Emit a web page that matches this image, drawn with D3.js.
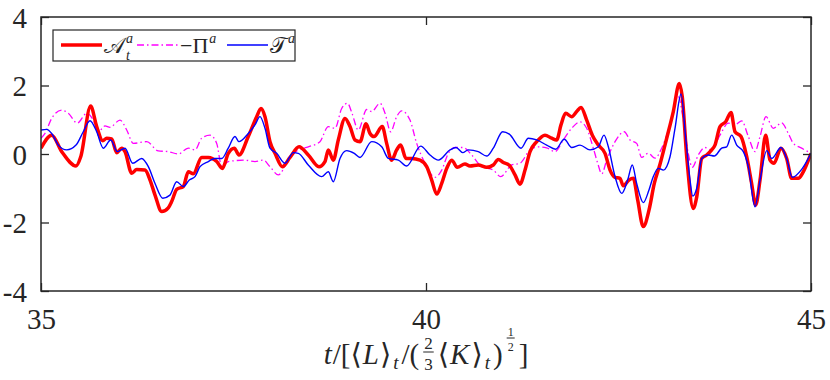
<!DOCTYPE html>
<html>
<head>
<meta charset="utf-8">
<title>A_t, Pi, T time series</title>
<style>
  body { margin: 0; background: #fff; }
</style>
</head>
<body>
<svg width="830" height="380"></svg>
<script src="https://cdn.jsdelivr.net/npm/d3@7/dist/d3.min.js"></script>
<script>
// time axis ticks and y ticks
const xTicks = [35, 40, 45];
const yTicks = [-4, -2, 0, 2, 4];

// A_t^a (red, thick)
const tA = [35.000,35.139,35.269,35.455,35.516,35.645,35.723,35.801,35.853,35.918,35.983,36.048,36.091,36.178,36.243,36.351,36.416,36.481,36.568,36.653,36.697,36.762,36.848,36.913,36.978,37.087,37.173,37.282,37.355,37.432,37.510,37.571,37.692,37.801,37.857,37.909,37.974,38.039,38.134,38.234,38.351,38.471,38.610,38.688,38.731,38.796,38.861,38.948,39.013,39.078,39.143,39.221,39.273,39.325,39.432,39.489,39.554,39.619,39.671,39.740,39.814,39.922,40.009,40.074,40.139,40.204,40.269,40.334,40.406,40.506,40.571,40.679,40.788,40.874,40.939,41.004,41.082,41.156,41.221,41.286,41.351,41.438,41.545,41.632,41.697,41.753,41.814,41.892,41.957,42.013,42.087,42.160,42.238,42.325,42.390,42.455,42.519,42.562,42.636,42.692,42.749,42.822,42.896,42.965,43.039,43.126,43.212,43.290,43.328,43.386,43.471,43.516,43.581,43.645,43.710,43.753,43.818,43.892,43.961,44.013,44.091,44.165,44.229,44.281,44.338,44.411,44.468,44.519,44.610,44.684,44.749,44.835,44.900,45.000];
const vA = [0.17,0.55,0.07,-0.35,-0.08,1.40,0.80,0.39,0.46,0.44,0.04,0.17,0.07,-0.56,-0.45,-0.47,-0.76,-1.20,-1.68,-1.57,-1.39,-1.03,-0.95,-0.52,-0.58,-0.10,-0.10,-0.22,-0.42,0.02,0.17,-0.03,0.51,1.09,1.33,1.09,0.36,0.02,-0.37,-0.10,0.21,-0.03,-0.37,-0.22,0.12,-0.18,0.41,1.04,0.80,0.41,0.36,0.88,0.60,0.51,0.80,0.31,-0.18,0.12,0.26,-0.13,-0.13,-0.18,-0.37,-0.76,-1.17,-0.86,-0.42,-0.18,-0.39,-0.29,-0.35,-0.32,-0.39,-0.32,-0.16,-0.25,-0.33,-0.61,-0.88,-0.47,0.07,0.36,0.55,0.46,0.41,0.85,1.19,1.09,1.24,1.36,0.99,0.55,0.26,0.02,-0.47,-0.68,-0.71,-0.93,-0.76,-0.71,-1.34,-2.12,-1.64,-0.86,-0.30,0.46,1.24,2.06,1.67,-0.08,-1.59,-1.25,-0.13,-0.03,0.12,0.26,0.80,0.94,1.21,0.65,0.51,-0.08,-0.86,-1.49,-0.76,0.55,-0.18,-0.27,0.17,-0.13,-0.71,-0.71,-0.52,0.02];

// -Pi^a (magenta, dash-dot)
const tP = [35.000,35.052,35.139,35.269,35.355,35.471,35.594,35.679,35.744,35.831,35.896,36.026,36.113,36.199,36.373,36.523,36.653,36.783,36.913,37.000,37.087,37.195,37.282,37.347,37.432,37.649,37.779,37.887,37.974,38.082,38.212,38.342,38.471,38.623,38.731,38.818,38.905,38.981,39.039,39.121,39.230,39.295,39.403,39.468,39.541,39.619,39.684,39.792,39.879,39.987,40.117,40.204,40.290,40.377,40.484,40.594,40.723,40.874,40.970,41.113,41.221,41.351,41.459,41.567,41.675,41.783,41.892,42.000,42.087,42.173,42.230,42.282,42.347,42.455,42.575,42.649,42.736,42.801,42.887,42.974,43.061,43.169,43.277,43.342,43.406,43.458,43.536,43.623,43.710,43.818,43.926,44.013,44.100,44.186,44.273,44.338,44.416,44.510,44.619,44.705,44.771,44.879,45.000];
const vP = [0.46,0.60,1.04,1.28,1.19,0.90,1.19,0.99,0.65,0.82,0.78,0.99,0.70,0.31,0.36,0.09,0.07,0.00,0.17,0.12,0.46,0.55,0.31,-0.37,-0.22,-0.18,-0.22,-0.18,-0.37,-0.61,-0.18,0.12,0.21,0.36,0.80,0.75,1.33,1.48,1.19,0.70,1.30,1.24,1.48,1.19,0.65,1.09,1.26,0.99,0.31,-0.27,-0.68,-0.47,0.02,0.19,0.19,-0.03,-0.37,-0.47,-0.66,-0.32,-0.27,0.12,0.21,0.18,0.07,0.41,0.75,0.94,0.75,0.17,-0.27,-0.58,-0.18,0.36,0.65,0.41,0.31,-0.10,0.02,-0.12,0.17,0.85,1.67,0.99,0.02,-0.39,-0.03,0.19,0.12,0.55,0.90,0.85,0.97,0.51,0.07,0.51,1.09,0.75,0.91,0.60,0.31,0.17,0.02];

// T^a (blue, thin)
const tT = [35.000,35.074,35.139,35.225,35.334,35.455,35.549,35.636,35.723,35.809,35.905,35.991,36.091,36.191,36.308,36.394,36.481,36.581,36.675,36.762,36.848,36.926,37.000,37.065,37.173,37.260,37.347,37.432,37.519,37.571,37.692,37.779,37.844,37.909,37.974,38.061,38.169,38.277,38.342,38.471,38.645,38.731,38.796,38.883,38.970,39.069,39.143,39.295,39.425,39.510,39.640,39.749,39.931,40.052,40.160,40.312,40.390,40.477,40.549,40.679,40.788,40.874,40.996,41.082,41.234,41.329,41.438,41.567,41.684,41.796,41.892,42.000,42.130,42.238,42.312,42.368,42.455,42.542,42.619,42.679,42.736,42.822,42.896,42.952,43.017,43.082,43.169,43.234,43.312,43.373,43.429,43.464,43.516,43.581,43.666,43.744,43.840,43.905,43.970,44.035,44.121,44.186,44.273,44.338,44.425,44.490,44.610,44.684,44.757,44.879,45.000];
const vT = [0.70,0.72,0.60,0.26,0.12,0.26,0.65,0.97,0.65,0.17,0.41,0.07,0.17,-0.27,-0.13,-0.37,-0.86,-1.29,-1.20,-0.81,-0.95,-0.76,-0.66,-0.37,-0.22,-0.13,-0.13,0.17,0.51,0.36,0.60,0.85,1.09,0.75,0.17,0.02,-0.27,0.04,0.02,-0.32,-0.66,-0.52,-0.81,-0.13,0.10,0.02,-0.10,0.36,0.21,-0.13,-0.18,-0.35,0.23,-0.03,-0.18,0.12,0.19,0.04,0.12,0.07,-0.06,0.17,0.65,0.58,0.17,0.46,0.41,0.26,0.14,0.43,0.19,0.26,0.12,0.21,0.55,0.21,-0.66,-1.15,-0.76,-0.32,-0.86,-1.42,-1.05,-0.66,-0.42,-0.47,-0.08,0.75,1.75,0.46,-0.76,-1.23,-1.00,-0.13,-0.03,-0.06,0.17,0.21,0.55,0.26,0.07,-0.37,-1.54,-0.76,0.10,-0.13,0.19,-0.13,-0.68,-0.45,0.02];

const axisColor = "#262626";
const serif = "'Liberation Serif', 'Times New Roman', Times, Tinos, 'Noto Serif', 'DejaVu Serif', serif";
const margin = {top: 17, right: 19, bottom: 89, left: 41},
    width = 830 - margin.left - margin.right,
    height = 380 - margin.top - margin.bottom;

const svg = d3.select("svg");
const g = svg.append("g")
    .attr("transform", `translate(${margin.left},${margin.top})`);

const x = d3.scaleLinear().domain([35, 45]).range([0, width]);
const y = d3.scaleLinear().domain([-4, 4]).range([height, 0]);

// series lines
const line = d3.line()
    .x(d => x(d[0]))
    .y(d => y(d[1]))
    .curve(d3.curveMonotoneX);

const series = [
  {t: tP, v: vP, color: "#ff00ff", w: 1.3, dash: "7,3,1.5,3"},
  {t: tA, v: vA, color: "#ff0000", w: 3.5, dash: null},
  {t: tT, v: vT, color: "#0000ff", w: 1.4, dash: null}
];

g.append("clipPath").attr("id", "clip")
  .append("rect").attr("width", width).attr("height", height);

series.forEach(s => {
  g.append("path")
    .datum(s.t.map((t, i) => [t, s.v[i]]))
    .attr("clip-path", "url(#clip)")
    .attr("fill", "none")
    .attr("stroke", s.color)
    .attr("stroke-width", s.w)
    .attr("stroke-linejoin", "round")
    .attr("stroke-dasharray", s.dash)
    .attr("d", line);
});

// axes, ticks inward
const left = g.append("g")
    .call(d3.axisLeft(y).tickValues(yTicks).tickSize(-8).tickPadding(14).tickFormat(d3.format("d")));
const bottom = g.append("g")
    .attr("transform", `translate(0,${height})`)
    .call(d3.axisBottom(x).tickValues(xTicks).tickSize(-8).tickPadding(17).tickFormat(d3.format("d")));
g.append("g")
    .attr("transform", `translate(${width},0)`)
    .call(d3.axisRight(y).tickValues(yTicks).tickSize(-8).tickFormat(""));
g.append("g")
    .call(d3.axisTop(x).tickValues(xTicks).tickSize(-8).tickFormat(""));

g.selectAll(".domain").remove();
g.selectAll("g").attr("font-family", null);
g.selectAll(".tick line").attr("stroke", axisColor).attr("stroke-width", 1.3);
g.selectAll(".tick text")
    .attr("font-family", serif)
    .attr("font-size", 29)
    .attr("fill", axisColor);
left.selectAll(".tick text").attr("dy", "0.35em");
left.selectAll(".tick text").text(d => d < 0 ? "-" + Math.abs(d) : d);

g.append("rect")
    .attr("width", width).attr("height", height)
    .attr("fill", "none")
    .attr("stroke", axisColor)
    .attr("stroke-width", 1.5);

// legend
const leg = g.append("g").attr("transform", "translate(12,13)");
leg.append("rect")
    .attr("width", 242).attr("height", 31)
    .attr("fill", "#fff")
    .attr("stroke", axisColor)
    .attr("stroke-width", 1.2);

const legItems = [
  {x: 8, color: "#ff0000", w: 3.5, dash: null, main: "𝒜", sub: "t", sup: "a"},
  {x: 84, color: "#ff00ff", w: 1.3, dash: "7,3,1.5,3", main: "−Π", sub: null, sup: "a"},
  {x: 174, color: "#0000ff", w: 1.4, dash: null, main: "𝒯", sub: null, sup: "a"}
];
legItems.forEach(d => {
  leg.append("line")
    .attr("x1", d.x).attr("x2", d.x + 41)
    .attr("y1", 15).attr("y2", 15)
    .attr("stroke", d.color)
    .attr("stroke-width", d.w)
    .attr("stroke-dasharray", d.dash);
  const tx = leg.append("text")
    .attr("x", d.x + 43).attr("y", 23)
    .attr("font-family", serif)
    .attr("font-size", 22)
    .attr("fill", axisColor);
  tx.append("tspan").text(d.main);
  const tw = tx.node().getComputedTextLength();
  tx.append("tspan").attr("x", d.x + 44 + tw).attr("y", 13)
    .attr("font-size", 14).attr("font-style", "italic").text(d.sup);
  if (d.sub) {
    tx.append("tspan").attr("x", d.x + 44 + tw).attr("y", 30)
      .attr("font-size", 14).attr("font-style", "italic").text(d.sub);
  }
});

// x axis label: t/[<L>_t/(2/3 <K>_t)^(1/2)]
const lab = svg.append("g");
let cx = 0;
const base = 364;
function piece(s, opt) {
  opt = opt || {};
  const el = lab.append("text")
    .attr("x", cx)
    .attr("y", base + (opt.dy || 0))
    .attr("fill", axisColor)
    .attr("font-family", serif)
    .attr("font-size", opt.size || 29)
    .attr("font-style", opt.italic ? "italic" : "normal")
    .text(s);
  cx += el.node().getComputedTextLength() + (opt.gap || 0);
}
function frac(a, b, size, mid, up, down) {
  // numerator and denominator in one text element, stacked by tspans
  const ft = lab.append("text").attr("fill", axisColor)
      .attr("font-family", serif).attr("font-size", size)
      .attr("text-anchor", "middle");
  const na = ft.append("tspan").attr("y", mid - up).text(a);
  const nb = ft.append("tspan").attr("y", mid + down).text(b);
  const w = Math.max(na.node().getComputedTextLength(), nb.node().getComputedTextLength()) + 2;
  na.attr("x", cx + w / 2);
  nb.attr("x", cx + w / 2);
  lab.append("line")
    .attr("x1", cx).attr("x2", cx + w)
    .attr("y1", mid).attr("y2", mid)
    .attr("stroke", axisColor).attr("stroke-width", 1);
  cx += w + 4;
}
piece("t", {italic: true, gap: 1});
piece("/[⟨", {gap: 1});
piece("L", {italic: true, gap: 1});
piece("⟩", {gap: 2});
piece("t", {italic: true, size: 19, dy: 5, gap: 3});
piece("/(", {gap: 4});
frac("2", "3", 17, base - 12, 3, 18);
piece("⟨", {gap: 1});
piece("K", {italic: true, gap: 2});
piece("⟩", {gap: 2});
piece("t", {italic: true, size: 19, dy: 5, gap: 3});
piece(")", {gap: 4});
frac("1", "2", 12, base - 26, 2, 13);
piece("]");
lab.attr("transform", `translate(${426 - cx / 2},0)`);
</script>
</body>
</html>
